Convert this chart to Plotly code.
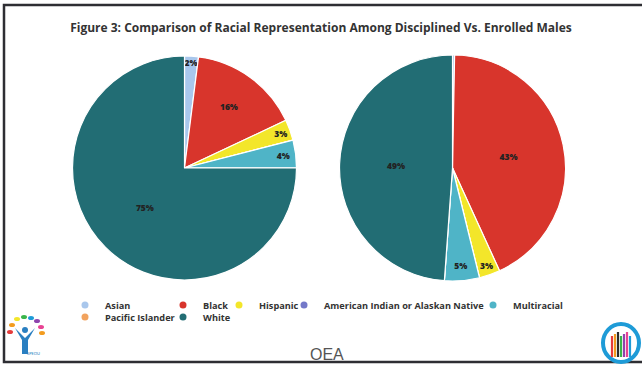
import plotly.graph_objects as go

categories = ["Asian", "Black", "Hispanic", "American Indian or Alaskan Native",
              "Multiracial", "Pacific Islander", "White"]
disciplined = [2, 16, 3, 0, 4, 0, 75]
enrolled = [0.3, 43, 3, 0, 5, 0, 49]
colors = ["#a9c7ec", "#d8352c", "#f3e62a", "#7479c9", "#4fb4c7", "#f2a35e", "#226d74"]

title_text = "Figure 3: Comparison of Racial Representation Among Disciplined Vs. Enrolled Males"


def pct_labels(vals):
    return [f"{v:.0f}%" if v >= 1 else "" for v in vals]


W, H = 642, 365


def px(x):
    return x / W


def py(y):
    return 1 - y / H


fig = go.Figure()

pie_common = dict(
    labels=categories,
    marker=dict(colors=colors, line=dict(color="white", width=1.2)),
    sort=False,
    direction="clockwise",
    rotation=0,
    textposition="inside",
    insidetextorientation="horizontal",
    texttemplate="%{text}",
    textfont=dict(family="Open Sans", size=8.5, color="#222222", weight=800),
    showlegend=False,
    hoverinfo="label+percent",
)

fig.add_trace(go.Pie(values=disciplined, text=pct_labels(disciplined), name="Disciplined",
                     domain=dict(x=[px(72.5), px(296.5)], y=[py(280), py(56)]), **pie_common))
fig.add_trace(go.Pie(values=enrolled, text=pct_labels(enrolled), name="Enrolled",
                     domain=dict(x=[px(339), px(566)], y=[py(281), py(55)]), **pie_common))

# legend entries (one small legend per entry to mimic the grid layout)
legend_pos = [(89, 305), (187, 305), (243, 305), (308, 305), (497, 305), (89, 317), (187, 317)]
legend_layouts = {}
for i, (cat, col) in enumerate(zip(categories, colors)):
    key = "legend" if i == 0 else f"legend{i + 1}"
    fig.add_trace(go.Scatter(x=[None], y=[None], mode="markers", name=cat,
                             marker=dict(color=col, size=7, symbol="circle"),
                             legend=key, showlegend=True, hoverinfo="skip"))
    mx, my = legend_pos[i]
    legend_layouts[key] = dict(
        x=px(mx - 24), y=py(my), xanchor="left", yanchor="middle",
        bgcolor="rgba(0,0,0,0)", borderwidth=0,
        font=dict(family="Open Sans", size=9.2, color="#333333", weight=700),
        itemwidth=30,
    )

fig.update_layout(
    width=W, height=H,
    margin=dict(l=0, r=0, t=0, b=0),
    paper_bgcolor="white",
    plot_bgcolor="white",
    xaxis=dict(visible=False, domain=[0, 0.01]),
    yaxis=dict(visible=False, domain=[0, 0.01]),
    uniformtext=dict(minsize=8.5, mode="show"),
    title=dict(text=title_text, x=0.5, xanchor="center", y=py(28), yanchor="middle",
               font=dict(family="Open Sans", size=12, color="#333333", weight=700)),
    **legend_layouts,
)

# frame of the scanned slide
fig.add_shape(type="rect", xref="paper", yref="paper", x0=px(4), x1=px(645), y0=py(362), y1=py(5),
              line=dict(color="#2e2e33", width=2.5), fillcolor="rgba(0,0,0,0)")

# OEA footer text
fig.add_annotation(text="OEA", xref="paper", yref="paper", x=px(327), y=py(354), showarrow=False,
                   xanchor="center", yanchor="middle",
                   font=dict(family="Liberation Sans Narrow, Liberation Sans", size=16, color="#555555"))

# right logo: ring with raised hands
fig.add_shape(type="circle", xref="paper", yref="paper", x0=px(603), x1=px(639), y0=py(362), y1=py(324),
              line=dict(color="#1e9bd7", width=4), fillcolor="white")
hand_cols = ["#e53b3b", "#f39c1f", "#2b2b2b", "#3ab54a", "#8e44ad", "#e84393", "#1e9bd7"]
for k, c in enumerate(hand_cols):
    x = 612 + k * 3
    fig.add_shape(type="line", xref="paper", yref="paper", x0=px(x), x1=px(x),
                  y0=py(357), y1=py(336 - (k % 3) * 2), line=dict(color=c, width=2.2))

# left logo: figure under a tree of leaves
leaf_cols = ["#e53b3b", "#f39c1f", "#f3e62a", "#3ab54a", "#1e9bd7", "#8e44ad", "#e84393", "#f39c1f"]
leaf_pos = [(10, 332), (12, 325), (17, 319), (24, 317), (31, 318), (37, 321), (41, 327), (42, 333)]
for (lx, ly), c in zip(leaf_pos, leaf_cols):
    fig.add_shape(type="circle", xref="paper", yref="paper", x0=px(lx - 3), x1=px(lx + 3),
                  y0=py(ly + 2), y1=py(ly - 2), line=dict(width=0), fillcolor=c)
fig.add_shape(type="circle", xref="paper", yref="paper", x0=px(22), x1=px(28), y0=py(333), y1=py(327),
              line=dict(width=0), fillcolor="#2a7fc1")
fig.add_shape(type="path", xref="paper", yref="paper",
              path=f"M {px(15)},{py(328)} L {px(25)},{py(338)} L {px(35)},{py(328)} L {px(28)},{py(340)} "
                   f"L {px(28)},{py(354)} L {px(22)},{py(354)} L {px(22)},{py(340)} Z",
              line=dict(width=0), fillcolor="#2a7fc1")
fig.add_annotation(text="SPEDU", xref="paper", yref="paper", x=px(25), y=py(358), showarrow=False,
                   font=dict(family="Lato", size=4, color="#2a7fc1"))

fig.write_html("out.html")
